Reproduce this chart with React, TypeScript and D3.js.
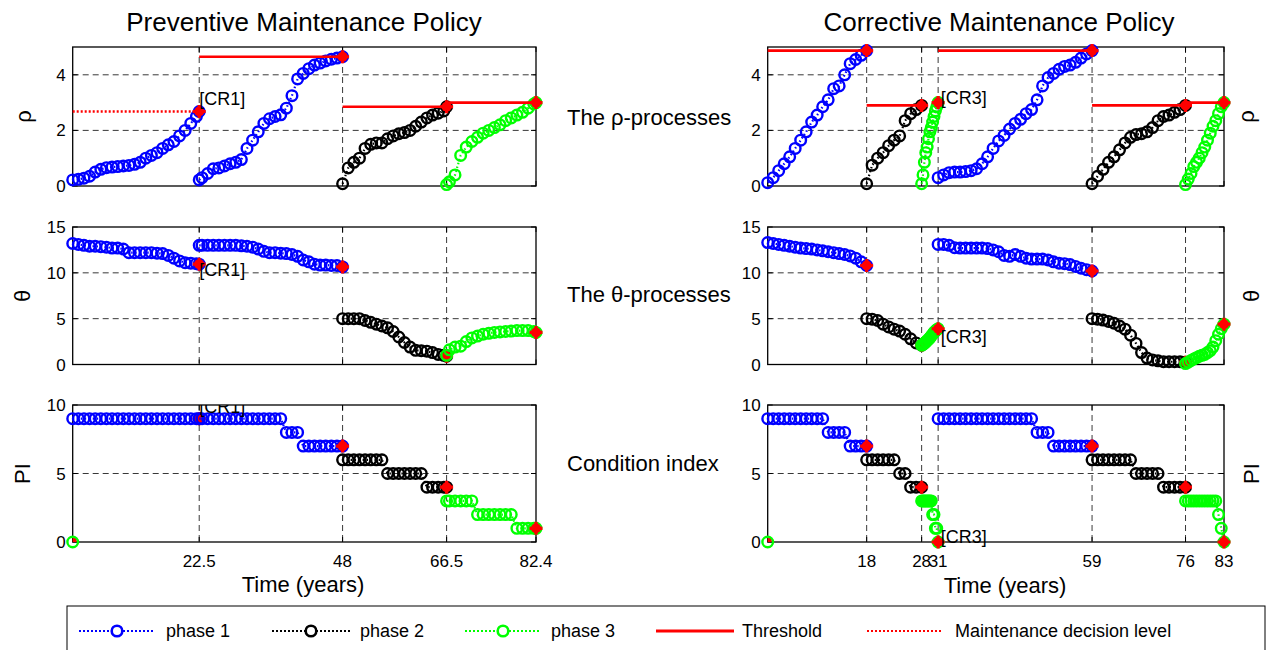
import React from "react";
import * as d3 from "d3";

// ===================== DATA =====================
// ---- Preventive maintenance policy (left column) ----
const pmTimeA = [0, 1, 2, 3, 4, 5, 6, 7, 8, 9, 10, 11, 12, 13, 14, 15, 16, 17, 18, 19, 20, 21, 22, 22.5];
const pmTimeB = [22.5, 23, 24, 25, 26, 27, 28, 29, 30, 31, 32, 33, 34, 35, 36, 37, 38, 39, 40, 41, 42, 43, 44, 45, 46, 47, 48];
const pmTimeC = [48, 49, 50, 51, 52, 53, 54, 55, 56, 57, 58, 59, 60, 61, 62, 63, 64, 65, 66, 66.5];
const pmTimeD = [66.5, 67, 68, 69, 70, 71, 72, 73, 74, 75, 76, 77, 78, 79, 80, 81, 82, 82.4];
const pmPhase = [1, 1, 2, 3];

const pmRhoA = [0.22, 0.24, 0.28, 0.35, 0.5, 0.6, 0.66, 0.68, 0.7, 0.72, 0.74, 0.78, 0.85, 1.0, 1.1, 1.2, 1.35, 1.48, 1.6, 1.8, 2.0, 2.25, 2.5, 2.68];
const pmRhoB = [0.22, 0.3, 0.45, 0.62, 0.65, 0.72, 0.8, 0.85, 0.95, 1.35, 1.65, 1.95, 2.25, 2.42, 2.5, 2.56, 2.8, 3.25, 3.85, 4.05, 4.22, 4.35, 4.42, 4.5, 4.56, 4.6, 4.65];
const pmRhoC = [0.08, 0.65, 0.85, 1.0, 1.35, 1.5, 1.55, 1.55, 1.7, 1.8, 1.88, 1.92, 2.0, 2.15, 2.3, 2.45, 2.55, 2.62, 2.7, 2.85];
const pmRhoD = [0.05, 0.15, 0.4, 1.1, 1.4, 1.6, 1.75, 1.9, 2.0, 2.1, 2.2, 2.35, 2.45, 2.55, 2.65, 2.8, 2.95, 3.0];

const pmThetaA = [13.2, 13.1, 13.0, 12.9, 12.9, 12.85, 12.8, 12.7, 12.7, 12.6, 12.2, 12.2, 12.2, 12.2, 12.2, 12.15, 12.1, 11.9, 11.6, 11.3, 11.1, 11.05, 11.0, 10.95];
const pmThetaB = [13.0, 13.0, 13.0, 13.0, 13.0, 13.0, 13.0, 13.0, 12.95, 12.9, 12.8, 12.6, 12.35, 12.2, 12.2, 12.15, 12.1, 12.0, 11.8, 11.4, 11.2, 10.95, 10.85, 10.85, 10.8, 10.8, 10.65];
const pmThetaC = [5.0, 5.0, 5.0, 5.0, 4.8, 4.6, 4.4, 4.2, 4.0, 3.6, 3.0, 2.4, 1.9, 1.55, 1.5, 1.45, 1.3, 1.1, 1.0, 0.9];
const pmThetaD = [1.0, 1.6, 1.9, 2.0, 2.5, 2.9, 3.1, 3.3, 3.4, 3.5, 3.55, 3.6, 3.65, 3.7, 3.7, 3.7, 3.6, 3.5];

const pmPIA = [9, 9, 9, 9, 9, 9, 9, 9, 9, 9, 9, 9, 9, 9, 9, 9, 9, 9, 9, 9, 9, 9, 9, 9];
const pmPIB = [9, 9, 9, 9, 9, 9, 9, 9, 9, 9, 9, 9, 9, 9, 9, 9, 8, 8, 8, 7, 7, 7, 7, 7, 7, 7, 7];
const pmPIC = [6, 6, 6, 6, 6, 6, 6, 6, 5, 5, 5, 5, 5, 5, 5, 4, 4, 4, 4, 4];
const pmPID = [3, 3, 3, 3, 3, 3, 2, 2, 2, 2, 2, 2, 2, 1, 1, 1, 1, 1];

const pmThrStart = [22.5, 48, 66.5];
const pmThrEnd = [48, 66.5, 82.4];
const pmThrLevel = [4.65, 2.85, 3.0];
const pmDecStart = [0];
const pmDecEnd = [22.5];
const pmDecLevel = [2.68];

const pmCrText = "[CR1]";
const pmCrT = 22.5;
const pmCrRho = 2.93;
const pmCrTheta = 9.65;
const pmCrPI = 9.4;

const pmXTicks = [22.5, 48, 66.5, 82.4];
const pmXTickLabels = ["22.5", "48", "66.5", "82.4"];

// ---- Corrective maintenance policy (right column) ----
const cmTimeA = [0, 1, 2, 3, 4, 5, 6, 7, 8, 9, 10, 11, 12, 13, 14, 15, 16, 17, 18];
const cmTimeB = [18, 19, 20, 21, 22, 23, 24, 25, 26, 27, 28];
const cmTimeC = [28, 28.25, 28.5, 28.75, 29, 29.25, 29.5, 29.75, 30, 30.25, 30.5, 30.75, 31];
const cmTimeD = [31, 32, 33, 34, 35, 36, 37, 38, 39, 40, 41, 42, 43, 44, 45, 46, 47, 48, 49, 50, 51, 52, 53, 54, 55, 56, 57, 58, 59];
const cmTimeE = [59, 60, 61, 62, 63, 64, 65, 66, 67, 68, 69, 70, 71, 72, 73, 74, 75, 76];
const cmTimeF = [76, 76.5, 77, 77.5, 78, 78.5, 79, 79.5, 80, 80.5, 81, 81.5, 82, 82.5, 83];
const cmPhase = [1, 2, 3, 1, 2, 3];

const cmRhoA = [0.12, 0.3, 0.55, 0.8, 1.05, 1.35, 1.65, 1.95, 2.3, 2.55, 2.85, 3.1, 3.5, 3.6, 4.0, 4.4, 4.55, 4.7, 4.87];
const cmRhoB = [0.08, 0.75, 1.0, 1.2, 1.45, 1.65, 1.8, 2.35, 2.6, 2.75, 2.9];
const cmRhoC = [0.08, 0.4, 0.85, 1.2, 1.4, 1.7, 1.95, 2.1, 2.3, 2.5, 2.7, 2.85, 3.0];
const cmRhoD = [0.3, 0.4, 0.48, 0.5, 0.5, 0.52, 0.55, 0.62, 0.8, 1.05, 1.35, 1.62, 1.82, 2.05, 2.25, 2.4, 2.6, 2.75, 3.1, 3.6, 3.9, 4.05, 4.2, 4.3, 4.35, 4.45, 4.6, 4.75, 4.87];
const cmRhoE = [0.08, 0.35, 0.6, 0.85, 1.05, 1.3, 1.55, 1.75, 1.85, 1.88, 1.95, 2.1, 2.35, 2.5, 2.55, 2.65, 2.75, 2.9];
const cmRhoF = [0.05, 0.25, 0.45, 0.7, 0.85, 1.0, 1.2, 1.4, 1.65, 1.9, 2.15, 2.35, 2.6, 2.85, 3.0];

const cmThetaA = [13.3, 13.2, 13.1, 13.0, 12.9, 12.8, 12.7, 12.65, 12.6, 12.5, 12.4, 12.3, 12.2, 12.1, 12.0, 11.85, 11.6, 11.2, 10.8];
const cmThetaB = [5.0, 4.95, 4.8, 4.4, 4.1, 3.85, 3.65, 3.3, 2.8, 2.35, 2.1];
const cmThetaC = [2.1, 2.2, 2.3, 2.45, 2.6, 2.75, 2.9, 3.1, 3.3, 3.5, 3.65, 3.8, 3.9];
const cmThetaD = [13.1, 13.1, 13.0, 12.75, 12.7, 12.7, 12.7, 12.7, 12.7, 12.65, 12.5, 12.3, 11.9, 11.8, 12.0, 11.8, 11.6, 11.5, 11.5, 11.5, 11.4, 11.2, 11.05, 11.0, 10.9, 10.7, 10.5, 10.35, 10.2];
const cmThetaE = [5.0, 4.95, 4.85, 4.7, 4.5, 4.2, 3.85, 3.2, 2.3, 1.3, 0.7, 0.5, 0.4, 0.3, 0.3, 0.3, 0.3, 0.25];
const cmThetaF = [0.1, 0.25, 0.45, 0.6, 0.75, 0.9, 1.0, 1.1, 1.3, 1.5, 1.9, 2.6, 3.3, 3.9, 4.4];

const cmPIA = [9, 9, 9, 9, 9, 9, 9, 9, 9, 9, 9, 8, 8, 8, 8, 7, 7, 7, 7];
const cmPIB = [6, 6, 6, 6, 6, 6, 5, 5, 4, 4, 4];
const cmPIC = [3, 3, 3, 3, 3, 3, 3, 3, 2, 2, 1, 1, 0];
const cmPID = [9, 9, 9, 9, 9, 9, 9, 9, 9, 9, 9, 9, 9, 9, 9, 9, 9, 9, 8, 8, 8, 7, 7, 7, 7, 7, 7, 7, 7];
const cmPIE = [6, 6, 6, 6, 6, 6, 6, 6, 5, 5, 5, 5, 5, 4, 4, 4, 4, 4];
const cmPIF = [3, 3, 3, 3, 3, 3, 3, 3, 3, 3, 3, 3, 2, 1, 0];

const cmThrStart = [0, 18, 31, 59, 76];
const cmThrEnd = [18, 28, 59, 76, 83];
const cmThrLevel = [4.87, 2.9, 4.87, 2.9, 3.0];

const cmCrText = "[CR3]";
const cmCrT = 31.5;
const cmCrRho = 2.95;
const cmCrTheta = 2.35;
const cmCrPI = -0.08;

const cmXTicks = [18, 28, 31, 59, 76, 83];
const cmXTickLabels = ["18", "28", "31", "59", "76", "83"];

// ---- Shared axes ----
const rhoDomain = [0, 5];
const thetaDomain = [0, 15];
const piDomain = [0, 10];
const rhoYTicks = [0, 2, 4];
const thetaYTicks = [0, 5, 10, 15];
const piYTicks = [0, 5, 10];

const legendLabels = ["phase 1", "phase 2", "phase 3", "Threshold", "Maintenance decision level"];

// ===================== STYLE / LAYOUT =====================
const FONT = "'Liberation Sans', Arial, Helvetica, sans-serif";
const PHASE_COLORS = ["#0000ff", "#000000", "#00ff00"];
const RED = "#ff0000";
const R = 5.3;
const SW = 2.4;

const LEFT = { x0: 72.7, x1: 536 };
const RIGHT = { x0: 767.7, x1: 1224 };
const ROWS = [
  { top: 47, bottom: 186 },
  { top: 227, bottom: 364.5 },
  { top: 405, bottom: 542 },
];

type Seg = { t: number[]; v: number[]; phase: number };

function makeSegs(times: number[][], vals: number[][], phases: number[]): Seg[] {
  return times.map((t, i) => ({ t, v: vals[i], phase: phases[i] }));
}

function RedMark({ cx, cy }: { cx: number; cy: number }) {
  return (
    <g>
      <circle cx={cx} cy={cy} r={5} fill={RED} />
      <path d={`M${cx - 6.5},${cy}H${cx + 6.5}M${cx},${cy - 6.5}V${cy + 6.5}`} stroke={RED} strokeWidth={3.2} />
    </g>
  );
}

type PanelProps = {
  id: string;
  xs: { x0: number; x1: number };
  row: { top: number; bottom: number };
  xDomain: number[];
  yDomain: number[];
  xTicks: number[];
  xTickLabels: string[] | null;
  yTicks: number[];
  segs: Seg[];
  thr?: { s: number[]; e: number[]; l: number[] };
  dec?: { s: number[]; e: number[]; l: number[] };
  label: { t: number; v: number; text: string; clip: boolean };
  origin?: boolean;
};

function Panel(p: PanelProps) {
  const x = d3.scaleLinear().domain(p.xDomain).range([p.xs.x0, p.xs.x1]);
  const y = d3.scaleLinear().domain(p.yDomain).range([p.row.bottom, p.row.top]);
  const { x0, x1 } = p.xs;
  const { top, bottom } = p.row;
  const clipId = `clip-${p.id}`;
  return (
    <g>
      <defs>
        <clipPath id={clipId}>
          <rect x={x0} y={top} width={x1 - x0} height={bottom - top} />
        </clipPath>
      </defs>
      <rect x={x0} y={top} width={x1 - x0} height={bottom - top} fill="#fff" />
      {/* grid */}
      {p.yTicks.filter((v) => v > p.yDomain[0] && v < p.yDomain[1]).map((v) => (
        <line key={`gy${v}`} x1={x0} x2={x1} y1={y(v)} y2={y(v)} stroke="#222" strokeWidth={0.9} strokeDasharray="6,4" />
      ))}
      {p.xTicks.filter((v) => v < p.xDomain[1]).map((v) => (
        <line key={`gx${v}`} x1={x(v)} x2={x(v)} y1={top} y2={bottom} stroke="#222" strokeWidth={0.9} strokeDasharray="6,4" />
      ))}
      {/* ticks */}
      {p.yTicks.map((v) => (
        <g key={`ty${v}`}>
          <line x1={x0} x2={x0 + 5} y1={y(v)} y2={y(v)} stroke="#000" />
          <line x1={x1} x2={x1 - 5} y1={y(v)} y2={y(v)} stroke="#000" />
          <text x={x0 - 7} y={y(v) + 6} textAnchor="end" fontSize={17} fontFamily={FONT} fill="#000">{v}</text>
        </g>
      ))}
      {p.xTicks.map((v, i) => (
        <g key={`tx${v}`}>
          <line x1={x(v)} x2={x(v)} y1={bottom} y2={bottom - 5} stroke="#000" />
          <line x1={x(v)} x2={x(v)} y1={top} y2={top + 5} stroke="#000" />
          {p.xTickLabels && (
            <text x={x(v)} y={bottom + 25} textAnchor="middle" fontSize={17} fontFamily={FONT} fill="#000">{p.xTickLabels[i]}</text>
          )}
        </g>
      ))}
      <rect x={x0} y={top} width={x1 - x0} height={bottom - top} fill="none" stroke="#000" strokeWidth={1.3} />
      {/* origin marker */}
      {p.origin && (
        <g>
          <rect x={x(0)} y={y(0) - 4} width={4} height={4} fill={RED} />
          <circle cx={x(0)} cy={y(0)} r={R} fill="none" stroke={PHASE_COLORS[2]} strokeWidth={SW} />
        </g>
      )}
      {/* series */}
      {p.segs.map((s, si) => {
        const color = PHASE_COLORS[s.phase - 1];
        const line = d3.line<number>().x((_, i) => x(s.t[i])).y((d) => y(d));
        const n = s.v.length - 1;
        return (
          <g key={`s${si}`}>
            <path d={line(s.v) || ""} fill="none" stroke={color} strokeWidth={2.2} strokeDasharray="1.5,2.5" />
            {s.v.map((v, i) => (
              <circle key={i} cx={x(s.t[i])} cy={y(v)} r={R} fill="none" stroke={color} strokeWidth={SW} />
            ))}
            <RedMark cx={x(s.t[n])} cy={y(s.v[n])} />
          </g>
        );
      })}
      {/* threshold lines */}
      {p.thr && p.thr.s.map((s, i) => (
        <line key={`thr${i}`} x1={x(s)} x2={x(p.thr!.e[i])} y1={y(p.thr!.l[i])} y2={y(p.thr!.l[i])} stroke={RED} strokeWidth={2.6} />
      ))}
      {p.dec && p.dec.s.map((s, i) => (
        <line key={`dec${i}`} x1={x(s)} x2={x(p.dec!.e[i])} y1={y(p.dec!.l[i])} y2={y(p.dec!.l[i])} stroke={RED} strokeWidth={2.6} strokeDasharray="2,2" />
      ))}
      <text
        x={x(p.label.t)}
        y={y(p.label.v)}
        fontSize={18}
        fontFamily={FONT}
        fill="#000"
        clipPath={p.label.clip ? `url(#${clipId})` : undefined}
      >
        {p.label.text}
      </text>
    </g>
  );
}

function YLabel({ x, y, text }: { x: number; y: number; text: string }) {
  return (
    <text transform={`translate(${x},${y}) rotate(-90)`} textAnchor="middle" fontSize={22} fontFamily={FONT} fill="#000">
      {text}
    </text>
  );
}

export default function App() {
  const pmTimes = [pmTimeA, pmTimeB, pmTimeC, pmTimeD];
  const cmTimes = [cmTimeA, cmTimeB, cmTimeC, cmTimeD, cmTimeE, cmTimeF];
  const pmRows = [
    { segs: makeSegs(pmTimes, [pmRhoA, pmRhoB, pmRhoC, pmRhoD], pmPhase), yDomain: rhoDomain, yTicks: rhoYTicks, crv: pmCrRho },
    { segs: makeSegs(pmTimes, [pmThetaA, pmThetaB, pmThetaC, pmThetaD], pmPhase), yDomain: thetaDomain, yTicks: thetaYTicks, crv: pmCrTheta },
    { segs: makeSegs(pmTimes, [pmPIA, pmPIB, pmPIC, pmPID], pmPhase), yDomain: piDomain, yTicks: piYTicks, crv: pmCrPI },
  ];
  const cmRows = [
    { segs: makeSegs(cmTimes, [cmRhoA, cmRhoB, cmRhoC, cmRhoD, cmRhoE, cmRhoF], cmPhase), yDomain: rhoDomain, yTicks: rhoYTicks, crv: cmCrRho },
    { segs: makeSegs(cmTimes, [cmThetaA, cmThetaB, cmThetaC, cmThetaD, cmThetaE, cmThetaF], cmPhase), yDomain: thetaDomain, yTicks: thetaYTicks, crv: cmCrTheta },
    { segs: makeSegs(cmTimes, [cmPIA, cmPIB, cmPIC, cmPID, cmPIE, cmPIF], cmPhase), yDomain: piDomain, yTicks: piYTicks, crv: cmCrPI },
  ];
  const leftLabels = ["ρ", "θ", "PI"];
  const midLabels = ["The ρ-processes", "The θ-processes", "Condition index"];
  const midBaselines = [125, 302, 471];

  // legend geometry
  const legY = 631;
  const legItems = [
    { l0: 79, l1: 155, tx: 166, kind: "phase", c: PHASE_COLORS[0] },
    { l0: 272, l1: 350, tx: 360, kind: "phase", c: PHASE_COLORS[1] },
    { l0: 465, l1: 541, tx: 551, kind: "phase", c: PHASE_COLORS[2] },
    { l0: 656, l1: 734, tx: 742, kind: "thr", c: RED },
    { l0: 867, l1: 941, tx: 955, kind: "dec", c: RED },
  ];

  return (
    <svg width={1272} height={650} style={{ display: "block", position: "absolute", left: 0, top: 0, background: "#fff" }}>
      <rect x={0} y={0} width={1272} height={650} fill="#fff" />
      <text x={304} y={31} textAnchor="middle" fontSize={26} fontFamily={FONT} fill="#000">Preventive Maintenance Policy</text>
      <text x={999} y={31} textAnchor="middle" fontSize={26} fontFamily={FONT} fill="#000">Corrective Maintenance Policy</text>

      {pmRows.map((r, i) => (
        <Panel
          key={`pm${i}`}
          id={`pm${i}`}
          xs={LEFT}
          row={ROWS[i]}
          xDomain={[0, 82.4]}
          yDomain={r.yDomain}
          xTicks={pmXTicks}
          xTickLabels={i === 2 ? pmXTickLabels : null}
          yTicks={r.yTicks}
          segs={r.segs}
          thr={i === 0 ? { s: pmThrStart, e: pmThrEnd, l: pmThrLevel } : undefined}
          dec={i === 0 ? { s: pmDecStart, e: pmDecEnd, l: pmDecLevel } : undefined}
          label={{ t: pmCrT, v: r.crv, text: pmCrText, clip: i === 2 }}
          origin={i === 2}
        />
      ))}
      {cmRows.map((r, i) => (
        <Panel
          key={`cm${i}`}
          id={`cm${i}`}
          xs={RIGHT}
          row={ROWS[i]}
          xDomain={[0, 83]}
          yDomain={r.yDomain}
          xTicks={cmXTicks}
          xTickLabels={i === 2 ? cmXTickLabels : null}
          yTicks={r.yTicks}
          segs={r.segs}
          thr={i === 0 ? { s: cmThrStart, e: cmThrEnd, l: cmThrLevel } : undefined}
          label={{ t: cmCrT, v: r.crv, text: cmCrText, clip: false }}
          origin={i === 2}
        />
      ))}

      {ROWS.map((row, i) => (
        <g key={`lab${i}`}>
          <YLabel x={i === 0 ? 31 : 30} y={(row.top + row.bottom) / 2} text={leftLabels[i]} />
          <YLabel x={i === 0 ? 1254 : 1259} y={(row.top + row.bottom) / 2} text={leftLabels[i]} />
          <text x={567} y={midBaselines[i]} fontSize={22} fontFamily={FONT} fill="#000">{midLabels[i]}</text>
        </g>
      ))}

      <text x={303} y={592} textAnchor="middle" fontSize={22} fontFamily={FONT} fill="#000">Time (years)</text>
      <text x={1005} y={593} textAnchor="middle" fontSize={22} fontFamily={FONT} fill="#000">Time (years)</text>

      {/* legend */}
      <rect x={67} y={606} width={1198} height={60} fill="#fff" stroke="#000" strokeWidth={1} />
      {legItems.map((it, i) => (
        <g key={`leg${i}`}>
          <line
            x1={it.l0}
            x2={it.l1}
            y1={legY}
            y2={legY}
            stroke={it.c}
            strokeWidth={it.kind === "thr" ? 2.8 : 2.2}
            strokeDasharray={it.kind === "thr" ? undefined : "2,2"}
          />
          {it.kind === "phase" && (
            <circle cx={(it.l0 + it.l1) / 2} cy={legY} r={R} fill="#fff" stroke={it.c} strokeWidth={2.6} />
          )}
          <text x={it.tx} y={legY + 6} fontSize={18} fontFamily={FONT} fill="#000">{legendLabels[i]}</text>
        </g>
      ))}
    </svg>
  );
}
